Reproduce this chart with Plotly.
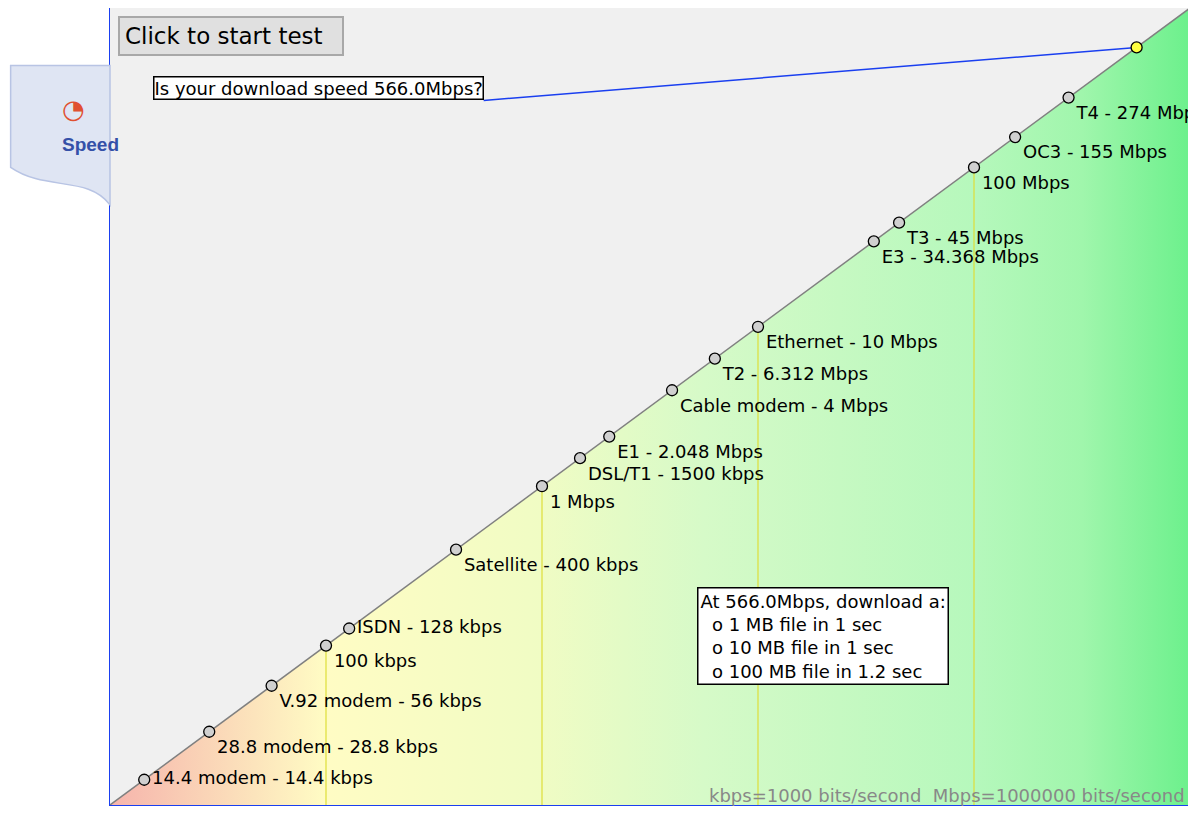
import math
import plotly.graph_objects as go

# connection types, speeds in kbps
names = ["14.4 modem - 14.4 kbps", "28.8 modem - 28.8 kbps", "V.92 modem - 56 kbps",
         "100 kbps", "ISDN - 128 kbps", "Satellite - 400 kbps", "1 Mbps",
         "DSL/T1 - 1500 kbps", "E1 - 2.048 Mbps", "Cable modem - 4 Mbps",
         "T2 - 6.312 Mbps", "Ethernet - 10 Mbps", "E3 - 34.368 Mbps", "T3 - 45 Mbps",
         "100 Mbps", "OC3 - 155 Mbps", "T4 - 274 Mbps"]
speeds = [14.4, 28.8, 56, 100, 128, 400, 1000, 1500, 2048, 4000,
          6312, 10000, 34368, 45000, 100000, 155000, 274000]
label_pos = ["middle right", "bottom right", "bottom right", "bottom right", "middle right",
             "bottom right", "bottom right", "bottom right", "bottom right", "bottom right",
             "bottom right", "bottom right", "bottom right", "bottom right", "bottom right",
             "bottom right", "bottom right"]
grid_speeds = [100, 1000, 10000, 100000]
axis_min, axis_max = 10, 1000000
measured = 566000
label_anchor = (537, 263000)

font = "DejaVu Sans"
fig = go.Figure()

# gradient triangle under the diagonal
fig.add_trace(go.Scatter(
    x=[axis_min, axis_max, axis_max, axis_min], y=[axis_min, axis_max, axis_min, axis_min],
    mode="lines", line=dict(width=0), fill="toself",
    fillgradient=dict(type="horizontal", colorscale=[
        [0, "#f6b4ac"], [0.2, "#fffcc4"], [0.4, "#f0fcc4"], [0.55, "#d6fac8"],
        [0.8, "#b6f8bc"], [0.9, "#a0f6ac"], [1, "#6cf08c"]]),
    hoverinfo="skip", showlegend=False))

# vertical yellow lines at each decade
for g in grid_speeds:
    fig.add_trace(go.Scatter(x=[g, g], y=[axis_min, g], mode="lines",
                             line=dict(color="#dede3a", width=1.2),
                             hoverinfo="skip", showlegend=False))

# diagonal
fig.add_trace(go.Scatter(x=[axis_min, axis_max], y=[axis_min, axis_max], mode="lines",
                         line=dict(color="#808080", width=1.5),
                         hoverinfo="skip", showlegend=False))

# reference points
fig.add_trace(go.Scatter(
    x=speeds, y=speeds, mode="markers+text", text=names, textposition=label_pos,
    textfont=dict(family=font, size=18, color="black"), cliponaxis=True,
    marker=dict(size=11, color="#d0d0d0", line=dict(color="black", width=1.3)),
    showlegend=False))

# measured speed
fig.add_trace(go.Scatter(x=[label_anchor[0], measured], y=[label_anchor[1], measured],
                         mode="lines", line=dict(color="#1a3ff0", width=1.5),
                         hoverinfo="skip", showlegend=False))
fig.add_trace(go.Scatter(x=[measured], y=[measured], mode="markers",
                         marker=dict(size=11, color="#ffff40", line=dict(color="black", width=1.3)),
                         showlegend=False))

fig.update_layout(
    width=1182, height=806,
    margin=dict(l=102, r=0, t=0, b=9),
    paper_bgcolor="white", plot_bgcolor="#f0f0f0",
    xaxis=dict(type="log", range=[1, 6], showgrid=False, zeroline=False, showticklabels=False,
               showline=True, linecolor="#1a3ff0", linewidth=1, mirror=True, ticks=""),
    yaxis=dict(type="log", range=[1, 6], showgrid=False, zeroline=False, showticklabels=False,
               showline=True, linecolor="#1a3ff0", linewidth=1, mirror=True, ticks=""),
    font=dict(family=font, size=18, color="black"),
)

# label of the measured speed (log axes take log10 positions)
fig.add_annotation(x=math.log10(label_anchor[0]), y=math.log10(label_anchor[1]),
                   text="Is your download speed 566.0Mbps?", showarrow=False,
                   xanchor="right", yanchor="bottom", bgcolor="white",
                   bordercolor="black", borderwidth=1.5, borderpad=0)

# start button
fig.add_annotation(xref="paper", yref="paper", x=0.0074, y=0.99, xanchor="left", yanchor="top",
                   text="Click to start test&nbsp;&nbsp;", showarrow=False,
                   bgcolor="#e0e0e0", bordercolor="#a8a8a8", borderwidth=2, borderpad=5,
                   font=dict(size=23))

# info box
fig.add_annotation(xref="paper", yref="paper", x=0.5435, y=0.2735, xanchor="left", yanchor="top",
                   align="left", showarrow=False, bgcolor="white", bordercolor="black",
                   borderwidth=1.5, borderpad=2,
                   text="At 566.0Mbps, download a:<br>&nbsp;&nbsp;o 1 MB file in 1 sec"
                        "<br>&nbsp;&nbsp;o 10 MB file in 1 sec<br>&nbsp;&nbsp;o 100 MB file in 1.2 sec")

# footer
fig.add_annotation(xref="paper", yref="paper", x=0.997, y=-0.004, xanchor="right", yanchor="bottom",
                   text="kbps=1000 bits/second&nbsp;&nbsp;Mbps=1000000 bits/second",
                   showarrow=False, font=dict(size=18, color="#888888"))

# speed tab on the left
fig.add_shape(type="path", xref="paper", yref="paper",
              path="M -0.092 0.928 L 0.0 0.928 L 0.0 0.753 C -0.02 0.79, -0.06 0.77, -0.092 0.8 Z",
              fillcolor="#dfe5f3", line=dict(color="#b8c4e4", width=1.5))
fig.add_annotation(xref="paper", yref="paper", x=-0.046, y=0.845, text="<b>Speed</b>",
                   showarrow=False, font=dict(family="Liberation Sans", size=19, color="#3450a8"))
fig.add_annotation(xref="paper", yref="paper", x=-0.046, y=0.895, text="\u25D4",
                   showarrow=False, font=dict(size=26, color="#e05030"))

fig.write_html("out.html")
